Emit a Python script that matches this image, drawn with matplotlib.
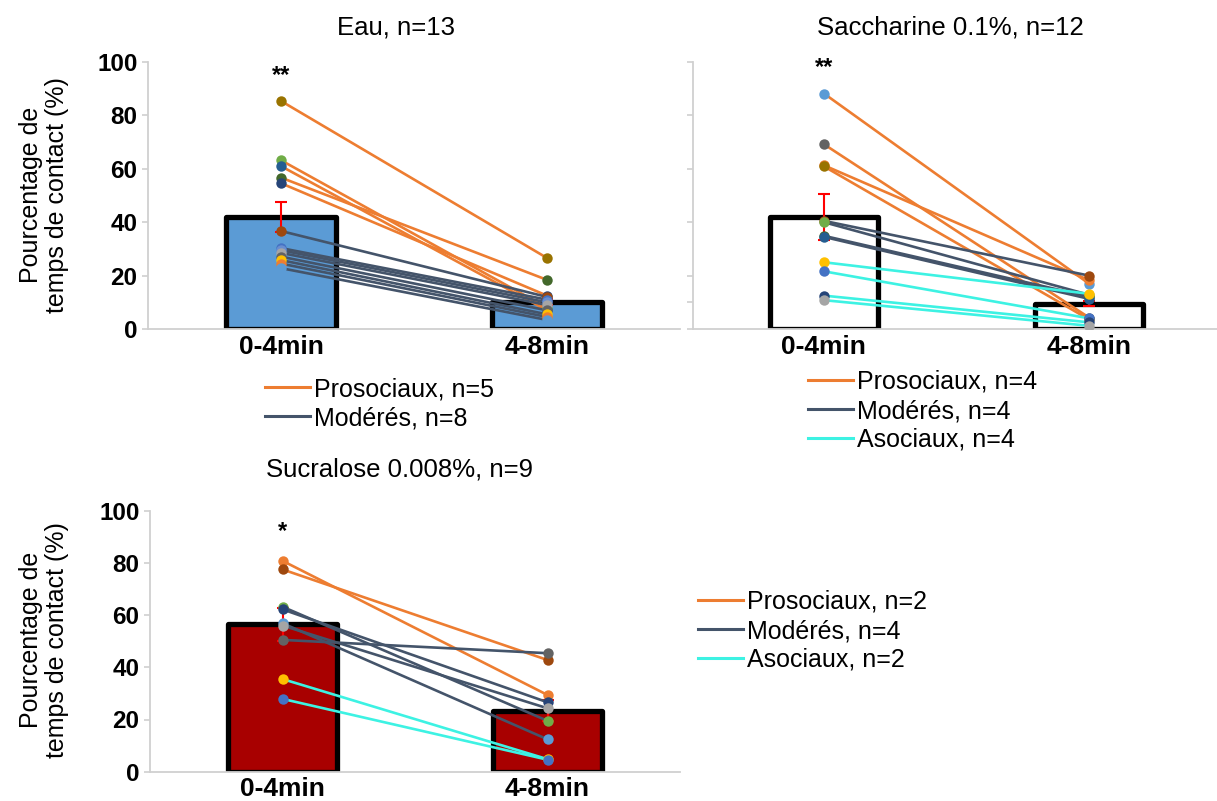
import matplotlib
matplotlib.use('Agg')
import matplotlib.pyplot as plt
from matplotlib.lines import Line2D

plt.rcParams['font.family'] = ['Liberation Sans', 'DejaVu Sans']

# categories
periods = ['0-4min', '4-8min']

# Eau, n=13
eau_means = [41.9, 10.1]
eau_sem = [5.7, 1.0]
eau_pro_0 = [85.4, 63.2, 61.0, 56.7, 54.6]
eau_pro_1 = [26.6, 8.0, 7.0, 18.4, 12.5]
eau_mod_0 = [36.7, 30.3, 29.5, 28.5, 27.1, 25.8, 24.5, 22.8]
eau_mod_1 = [12.0, 11.0, 10.0, 9.0, 7.0, 5.5, 4.5, 3.4]

# Saccharine 0.1%, n=12
sac_means = [41.8, 9.5]
sac_sem = [8.6, 0.8]
sac_pro_0 = [88.2, 69.2, 61.3, 60.9]
sac_pro_1 = [17.0, 4.3, 18.3, 3.6]
sac_mod_0 = [40.5, 40.0, 34.9, 34.5]
sac_mod_1 = [20.0, 12.8, 12.1, 11.3]
sac_aso_0 = [25.0, 21.6, 12.5, 10.8]
sac_aso_1 = [13.2, 4.0, 2.5, 1.2]

# Sucralose 0.008%, n=9
suc_means = [56.5, 23.3]
suc_sem = [6.3, 4.0]
suc_pro_0 = [80.8, 77.5]
suc_pro_1 = [29.4, 42.8]
suc_mod_0 = [63.2, 62.2, 56.9, 56.0, 50.5]
suc_mod_1 = [19.5, 26.6, 12.4, 24.3, 45.4]
suc_aso_0 = [35.5, 27.9]
suc_aso_1 = [4.8, 4.6]

# marker colours (Excel palette, one per animal)
eau_pro_c = ['#997300', '#70AD47', '#255E91', '#43682B', '#264478']
eau_mod_c = ['#9E480E', '#4472C4', '#698ED0', '#A5A5A5', '#636363', '#FFC000', '#ED7D31', '#5B9BD5']
sac_pro_c = ['#5B9BD5', '#636363', '#ED7D31', '#997300']
sac_mod_c = ['#9E480E', '#70AD47', '#43682B', '#255E91']
sac_aso_c = ['#FFC000', '#4472C4', '#264478', '#A5A5A5']
suc_pro_c = ['#ED7D31', '#9E480E']
suc_mod_c = ['#70AD47', '#264478', '#5B9BD5', '#A5A5A5', '#636363']
suc_aso_c = ['#FFC000', '#4472C4']

PRO = '#ED7D31'
MOD = '#44546A'
ASO = '#3DF2E3'
AXC = '#D0D0D0'

fig = plt.figure(figsize=(12.17, 8.01), dpi=100)


def panel(rect, means, sem, barcolor, groups, stars, ylabels=True, yticks=None, xlim=(-0.5, 1.5)):
    ax = fig.add_axes(rect)
    x = [0, 1]
    ax.bar(x, means, width=0.41, color=barcolor, edgecolor='black', linewidth=3.8,
           joinstyle='round', zorder=1)
    ax.errorbar(x, means, yerr=sem, fmt='none', ecolor='#FF0000', elinewidth=1.5,
                capsize=4, capthick=1.5, zorder=2)
    for v0, v1, cols, lc in groups:
        for a, b, c in zip(v0, v1, cols):
            ax.plot(x, [a, b], color=lc, lw=1.9, zorder=3)
            ax.plot(x, [a, b], 'o', color=c, ms=7.5, mec='none', zorder=4)
    ax.text(0, stars[1], stars[0], ha='center', va='center', fontsize=17,
            fontweight='bold')
    ax.set_xlim(*xlim)
    ax.set_ylim(0, 100)
    ax.set_xticks(x)
    ax.set_xticklabels(periods, fontsize=19, fontweight='bold')
    ax.tick_params(axis='x', length=0, pad=4)
    ax.set_yticks(yticks if yticks is not None else [0, 20, 40, 60, 80, 100])
    ax.tick_params(axis='y', length=4, width=1.2, color=AXC, direction='out')
    if ylabels:
        ax.set_yticklabels([str(t) for t in ax.get_yticks().astype(int)],
                           fontsize=17.5, fontweight='bold')
    else:
        ax.set_yticklabels([])
    for s in ['top', 'right']:
        ax.spines[s].set_visible(False)
    for s in ['left', 'bottom']:
        ax.spines[s].set_color(AXC)
        ax.spines[s].set_linewidth(1.3)
    ax.set_facecolor('none')
    return ax


panel([148 / 1217, 1 - 329 / 801, 532 / 1217, 267 / 801], eau_means, eau_sem, '#5B9BD5',
      [(eau_pro_0, eau_pro_1, eau_pro_c, PRO), (eau_mod_0, eau_mod_1, eau_mod_c, MOD)],
      ('**', 95))
panel([693 / 1217, 1 - 329 / 801, 524 / 1217, 267 / 801], sac_means, sac_sem, 'white',
      [(sac_pro_0, sac_pro_1, sac_pro_c, PRO), (sac_mod_0, sac_mod_1, sac_mod_c, MOD),
       (sac_aso_0, sac_aso_1, sac_aso_c, ASO)],
      ('**', 98), ylabels=False, yticks=[0, 10, 20, 40, 60, 80, 100], xlim=(-0.494, 1.483))
panel([150 / 1217, 1 - 771.7 / 801, 530 / 1217, 261 / 801], suc_means, suc_sem, '#A80000',
      [(suc_pro_0, suc_pro_1, suc_pro_c, PRO), (suc_mod_0, suc_mod_1, suc_mod_c, MOD),
       (suc_aso_0, suc_aso_1, suc_aso_c, ASO)],
      ('*', 92))

# titles
fig.text(396 / 1217, 1 - 27 / 801, 'Eau, n=13', ha='center', va='center', fontsize=18.5)
fig.text(950 / 1217, 1 - 27 / 801, 'Saccharine 0.1%, n=12', ha='center', va='center', fontsize=18.5)
fig.text(399 / 1217, 1 - 470 / 801, 'Sucralose 0.008%, n=9', ha='center', va='center', fontsize=18.5)

# y labels
for yc in [195, 640]:
    fig.text(44 / 1217, 1 - yc / 801, 'Pourcentage de\ntemps de contact (%)', rotation=90,
             ha='center', va='center', multialignment='center', fontsize=18, linespacing=1.15)


def legend(anchor, labels, colors):
    handles = [Line2D([0], [0], color=c, lw=2.2) for c in colors]
    fig.legend(handles, labels, loc='upper left', bbox_to_anchor=anchor, frameon=False,
               fontsize=18, handlelength=1.8, handletextpad=0.15, labelspacing=0.2,
               borderpad=0, borderaxespad=0)


legend((265 / 1217, 1 - 377 / 801), ['Prosociaux, n=5', 'Modérés, n=8'], [PRO, MOD])
legend((808 / 1217, 1 - 370 / 801), ['Prosociaux, n=4', 'Modérés, n=4', 'Asociaux, n=4'],
       [PRO, MOD, ASO])
legend((698 / 1217, 1 - 590 / 801), ['Prosociaux, n=2', 'Modérés, n=4', 'Asociaux, n=2'],
       [PRO, MOD, ASO])

fig.savefig('out.png', dpi=100)
